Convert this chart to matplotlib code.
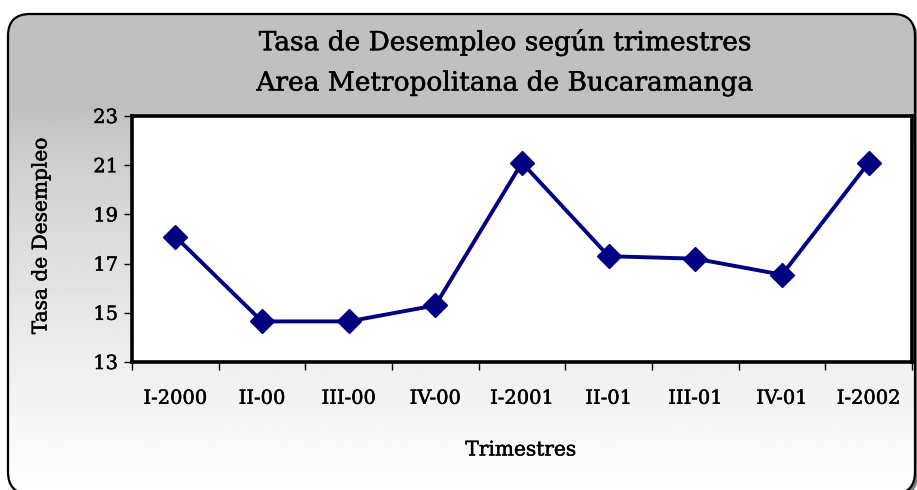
import matplotlib
matplotlib.use('Agg')
import matplotlib.pyplot as plt
import matplotlib.patheffects as pe
import numpy as np
from matplotlib.patches import FancyBboxPatch

trimestres = ['I-2000', 'II-00', 'III-00', 'IV-00', 'I-2001', 'II-01', 'III-01', 'IV-01', 'I-2002']
tasa = [18.1, 14.65, 14.65, 15.3, 21.1, 17.3, 17.2, 16.55, 21.1]
y_ticks = [13, 15, 17, 19, 21, 23]

plt.rcParams['font.family'] = ['DejaVu Serif']
heavy = [pe.withStroke(linewidth=0.35, foreground='black')]

W, H = 917, 490
fig = plt.figure(figsize=(W / 100, H / 100), dpi=100)
fig.patch.set_facecolor('white')

# background: rounded box (pixel coords, y up) with gray->white gradient and shadow
bg = fig.add_axes([0, 0, 1, 1])
bg.set_xlim(0, W)
bg.set_ylim(0, H)
bg.axis('off')
bx, by, bw, bh = 8, -4, 907, 480
bg.add_patch(FancyBboxPatch((bx + 3, by - 3), bw, bh, boxstyle='round,pad=0,rounding_size=22',
                            facecolor='#808080', edgecolor='none', zorder=0))
clip = FancyBboxPatch((bx, by), bw, bh, boxstyle='round,pad=0,rounding_size=22',
                      transform=bg.transData, facecolor='none', edgecolor='none')
bg.add_patch(clip)
g = np.linspace(0, 1, 300)
g = np.clip((g - 0.2) / 0.8, 0, 1) ** 0.75
col = 0.753 + (1 - 0.753) * g
img = np.repeat(col[:, None], 2, axis=1)
im = bg.imshow(img, cmap='gray', vmin=0, vmax=1, extent=(bx, bx + bw, by, by + bh),
               origin='upper', aspect='auto', zorder=1)
im.set_clip_path(clip)
bg.add_patch(FancyBboxPatch((bx, by), bw, bh, boxstyle='round,pad=0,rounding_size=22',
                            facecolor='none', edgecolor='black', lw=1.6, zorder=3))

# plot area
ax = fig.add_axes([132 / W, 1 - 362 / H, (912 - 132) / W, (362 - 116) / H])
ax.set_facecolor('white')
x = np.arange(len(trimestres))
ax.plot(x, tasa, color='#000080', lw=2.8, marker='D', ms=12, mec='#000080', mfc='#000080',
        clip_on=False, zorder=5)
ax.set_xlim(-0.5, len(trimestres) - 0.5)
ax.set_ylim(13, 23)
ax.set_yticks(y_ticks)
ax.set_xticks(x)
ax.set_xticklabels(trimestres)
ax.set_xticks(np.arange(-0.5, len(trimestres)), minor=True)
ax.tick_params(axis='x', which='major', length=0, pad=20, labelsize=14)
ax.tick_params(axis='x', which='minor', length=6, width=1, direction='out')
ax.tick_params(axis='y', length=6, width=1, direction='out', pad=4, labelsize=14)
for lab in ax.get_xticklabels() + ax.get_yticklabels():
    lab.set_path_effects(heavy)
for s in ax.spines.values():
    s.set_linewidth(2.6)
    s.set_color('black')

fig.text(505 / W, 1 - 42 / H, 'Tasa de Desempleo según trimestres', ha='center', va='center',
         fontsize=19, path_effects=heavy)
fig.text(505 / W, 1 - 83 / H, 'Area Metropolitana de Bucaramanga', ha='center', va='center',
         fontsize=19, path_effects=heavy)
fig.text(521 / W, 1 - 450 / H, 'Trimestres', ha='center', va='center', fontsize=14.5, path_effects=heavy)
fig.text(41 / W, 1 - 236 / H, 'Tasa de Desempleo', ha='center', va='center', rotation=90,
         fontsize=14.5, path_effects=heavy)

fig.savefig('out.png', dpi=100)
